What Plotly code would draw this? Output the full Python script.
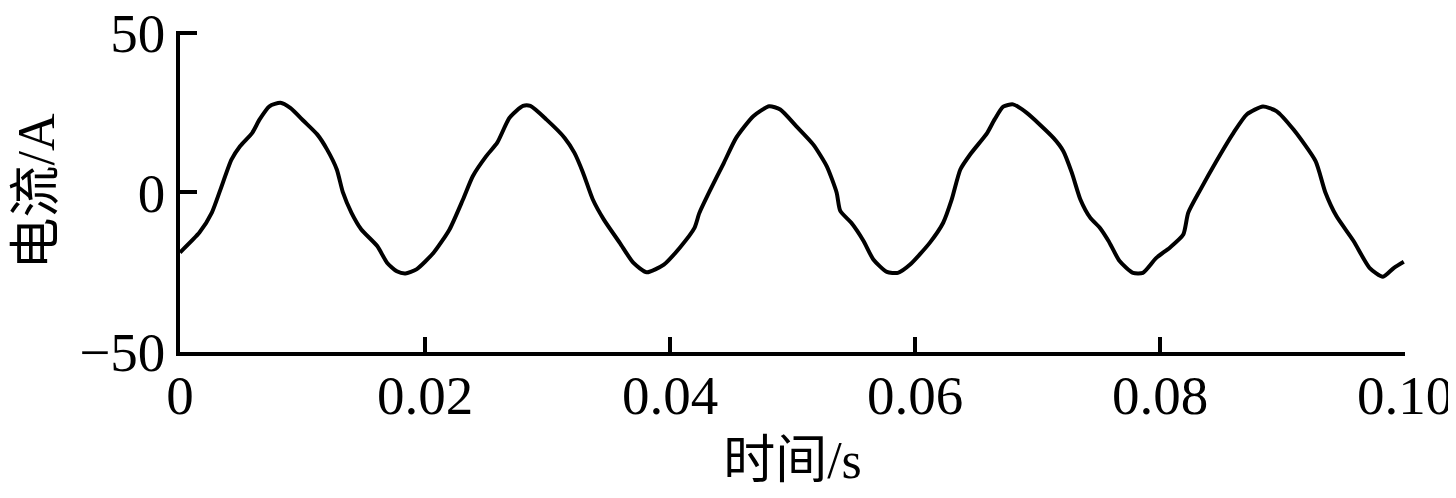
import plotly.graph_objects as go

t = [0, 0.0016, 0.0026, 0.0033, 0.0042, 0.0049, 0.0059, 0.0065, 0.0073, 0.0082,
     0.0090, 0.0101, 0.0112, 0.0120, 0.0128, 0.0133, 0.0140, 0.0148, 0.0161, 0.0169,
     0.0177, 0.0184, 0.0193, 0.0207, 0.0220, 0.0231, 0.0239, 0.0250, 0.0259, 0.0269,
     0.0280, 0.0286, 0.0299, 0.0314, 0.0322, 0.0329, 0.0337, 0.0346, 0.0359, 0.0370,
     0.0381, 0.0395, 0.0408, 0.0420, 0.0424, 0.0433, 0.0444, 0.0454, 0.0468, 0.0481,
     0.0490, 0.0503, 0.0517, 0.0528, 0.0536, 0.0539, 0.0548, 0.0558, 0.0566, 0.0577,
     0.0586, 0.0596, 0.0612, 0.0623, 0.0630, 0.0637, 0.0645, 0.0659, 0.0665, 0.0672,
     0.0680, 0.0691, 0.0713, 0.0721, 0.0728, 0.0735, 0.0743, 0.0751, 0.0758, 0.0767,
     0.0778, 0.0786, 0.0797, 0.0808, 0.0819, 0.0823, 0.0833, 0.0846, 0.0860, 0.0871,
     0.0884, 0.0895, 0.0909, 0.0927, 0.0935, 0.0944, 0.0958, 0.0971, 0.0982, 0.0991,
     0.0999]
current = [-18.8, -12.5, -6.3, 0.9, 10.3, 14.5, 18.7, 22.9, 27.0, 28.1,
           26.5, 22.4, 18.2, 13.5, 7.2, 0.0, -6.4, -11.6, -16.8, -22.0,
           -24.7, -25.4, -24.1, -18.9, -11.6, -2.2, 5.1, 11.4, 15.6, 23.4,
           27.1, 27.1, 22.9, 17.1, 12.4, 6.2, -2.2, -8.5, -15.8, -22.0,
           -25.0, -22.6, -17.3, -11.1, -6.4, 0.9, 9.3, 17.1, 23.9, 27.0,
           26.0, 20.8, 15.0, 8.2, 0.0, -5.8, -9.5, -15.2, -21.0, -24.9,
           -25.2, -22.6, -15.8, -9.5, -2.2, 7.2, 11.9, 18.7, 22.9, 26.9,
           27.6, 25.0, 17.1, 13.0, 6.2, -2.2, -7.9, -11.1, -15.2, -21.5,
           -25.2, -25.2, -20.5, -17.3, -13.2, -6.4, 0.9, 9.8, 18.7, 24.5,
           26.9, 25.5, 19.7, 9.8, 0.0, -7.4, -15.2, -23.6, -26.4, -23.6,
           -21.7]

x_ticks = [0, 0.02, 0.04, 0.06, 0.08, 0.10]
x_ticktext = ["0", "0.02", "0.04", "0.06", "0.08", "0.10"]
y_ticks = [-50, 0, 50]
y_ticktext = ["\u221250", "0", "50"]

FONT = "'Liberation Serif', 'Times New Roman', 'Noto Sans CJK SC', serif"

fig = go.Figure()
fig.add_trace(go.Scatter(x=t, y=current, mode="lines",
                         line=dict(color="black", width=4, shape="spline", smoothing=0.6),
                         showlegend=False))

fig.update_layout(
    width=1448, height=490,
    margin=dict(l=172, r=51, t=23, b=146),
    paper_bgcolor="white", plot_bgcolor="white",
    font=dict(family=FONT, size=55, color="black"),
    xaxis=dict(range=[0, 0.1], tickvals=x_ticks, ticktext=x_ticktext,
               automargin=False, ticklabeloverflow="allow", ticklabelstandoff=-8,
               showline=True, linecolor="black", linewidth=3.5, mirror=False,
               ticks="inside", ticklen=15, tickwidth=3.5, tickcolor="black",
               showgrid=False, zeroline=False,
               title=dict(text="时间/s", standoff=18,
                          font=dict(family=FONT, size=52))),
    yaxis=dict(range=[-50, 50.6], tickvals=y_ticks, ticktext=y_ticktext,
               automargin=False, ticklabeloverflow="allow",
               showline=True, linecolor="black", linewidth=3.5, mirror=False,
               ticks="inside", ticklen=17, tickwidth=3.5, tickcolor="black",
               showgrid=False, zeroline=False,
               title=dict(text="电流/A", standoff=30,
                          font=dict(family=FONT, size=52))),
)

fig.write_html("out.html")
